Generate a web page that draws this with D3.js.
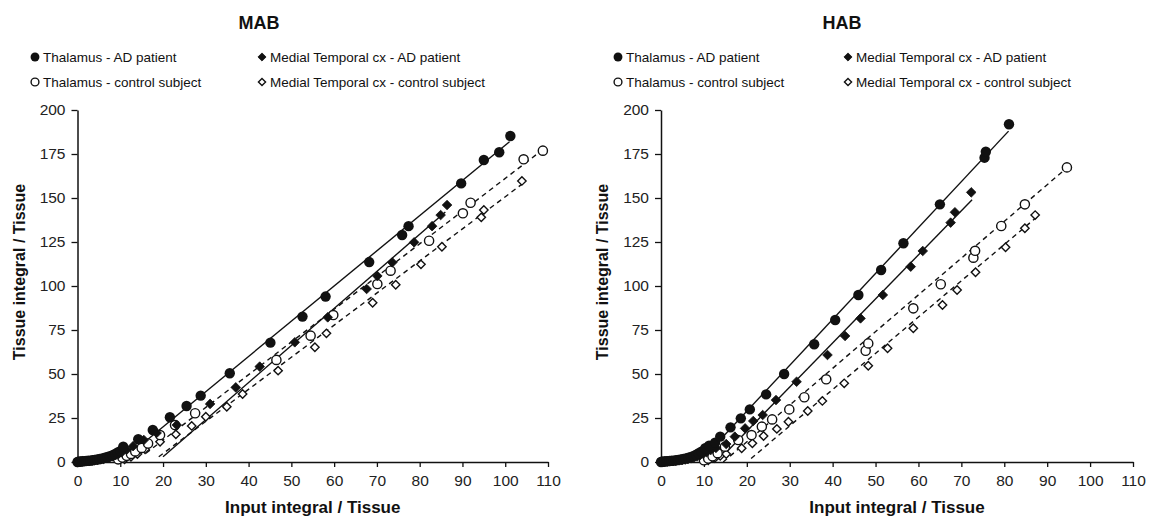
<!DOCTYPE html>
<html><head><meta charset="utf-8">
<script src="https://cdn.jsdelivr.net/npm/d3@7"></script>
<style>
html,body{margin:0;padding:0;background:#fff;}
svg{display:block;font-family:Arial,"Liberation Sans",sans-serif;}
</style></head>
<body><svg id="c" width="1149" height="519"></svg>
<script>
// ---------- data ----------
const xTicks = [0,10,20,30,40,50,60,70,80,90,100,110];
const yTicks = [0,25,50,75,100,125,150,175,200];
const panelTitles = ["MAB","HAB"];
const legendLabels = ["Thalamus - AD patient","Medial Temporal cx - AD patient","Thalamus - control subject","Medial Temporal cx - control subject"];
const xLabel = "Input integral / Tissue";
const yLabel = "Tissue integral / Tissue";

const mabThalAD = [[0,0],[0.2,0.1],[0.5,0.2],[0.8,0.3],[1.2,0.4],[1.6,0.5],[2.0,0.6],[2.5,0.7],[3.0,0.8],[3.5,1.0],[4.0,1.2],[4.6,1.4],[5.2,1.7],[5.8,2.0],[6.4,2.4],[7.0,2.8],[7.6,3.3],[8.2,3.9],[8.8,4.6],[9.4,5.4],[10.0,6.2],[10.7,8.7],[14.2,12.9],[17.6,18.2],[21.6,25.4],[25.5,31.8],[28.8,37.7],[35.6,50.4],[45.1,67.8],[52.6,82.6],[58.0,94.0],[68.2,113.6],[75.9,129.0],[77.4,134.0],[89.7,158.3],[95.0,171.6],[98.6,176.0],[101.2,185.2]];
const mabMtAD = [[0,0],[0.3,0.1],[0.7,0.2],[1.1,0.3],[1.6,0.4],[2.2,0.5],[2.8,0.6],[3.4,0.8],[4.0,1.0],[4.7,1.2],[5.4,1.5],[6.1,1.8],[6.8,2.2],[7.5,2.7],[8.2,3.2],[8.9,3.9],[9.6,4.6],[10.3,5.5],[11.5,7.0],[13.0,9.0],[15.5,12.5],[18.5,16.5],[23.2,21.0],[31.0,33.0],[37.0,42.4],[42.6,54.2],[50.8,68.0],[58.5,82.2],[67.6,98.3],[70.1,105.7],[73.6,113.4],[78.7,124.8],[82.9,134.0],[84.9,140.3],[86.4,146.0]];
const mabThalCtrl = [[9.5,1.5],[10.5,2.5],[11.5,3.5],[12.5,4.6],[13.5,6.0],[15.0,8.0],[16.5,10.5],[19.3,15.3],[22.8,21.0],[27.5,27.7],[46.5,58.0],[54.5,71.8],[59.8,83.5],[70.1,101.1],[73.2,108.7],[82.2,125.7],[90.1,141.3],[91.9,147.3],[104.3,172.0],[108.8,176.9]];
const mabMtCtrl = [[11.0,1.5],[12.5,3.0],[14.0,4.5],[15.8,7.2],[19.3,11.5],[23.0,15.7],[26.7,20.5],[30.0,25.7],[34.9,31.4],[38.6,38.6],[46.9,51.9],[55.5,65.2],[58.2,73.1],[69.0,90.5],[74.4,100.7],[80.3,112.3],[85.2,122.3],[94.4,139.0],[95.0,143.2],[103.9,159.7]];

const habThalAD = [[0,0],[0.2,0.1],[0.5,0.2],[0.8,0.3],[1.2,0.4],[1.6,0.5],[2.0,0.6],[2.5,0.7],[3.0,0.8],[3.5,1.0],[4.0,1.2],[4.6,1.4],[5.2,1.7],[5.8,2.0],[6.4,2.4],[7.0,2.9],[7.6,3.5],[8.2,4.2],[8.8,5.0],[9.4,5.9],[10.3,7.8],[11.2,9.3],[12.6,11.0],[13.8,14.4],[16.2,19.7],[18.6,24.8],[20.7,29.9],[24.5,38.4],[28.7,50.0],[35.7,66.9],[40.6,80.7],[46.0,94.9],[51.3,109.1],[56.5,124.3],[65.0,146.4],[75.4,172.9],[75.7,176.3],[81.1,191.9]];
const habMtAD = [[0,0],[0.4,0.1],[0.9,0.2],[1.5,0.3],[2.1,0.4],[2.8,0.5],[3.5,0.7],[4.2,0.9],[4.9,1.1],[5.6,1.4],[6.3,1.7],[7.0,2.1],[7.7,2.6],[8.4,3.2],[9.1,3.9],[9.8,4.7],[10.6,5.6],[11.6,6.8],[12.8,8.0],[15.2,10.2],[17.2,14.4],[19.6,19.1],[21.5,23.3],[23.7,26.7],[26.8,35.2],[31.6,45.6],[38.8,60.8],[42.9,71.6],[46.5,81.6],[51.7,94.9],[58.2,111.0],[61.0,119.9],[67.5,136.0],[68.5,141.9],[72.3,153.2]];
const habThalCtrl = [[10.0,1.0],[11.0,2.0],[12.0,3.2],[13.2,5.0],[14.9,8.7],[18.0,12.5],[21.1,15.3],[23.5,20.1],[25.9,24.2],[29.9,29.9],[33.4,36.8],[38.5,47.0],[47.7,63.2],[48.3,67.4],[58.8,87.3],[65.2,101.0],[72.8,116.1],[73.2,120.0],[79.3,134.1],[84.8,146.4],[94.6,167.4]];
const habMtCtrl = [[11.0,1.0],[12.5,2.2],[13.8,3.5],[15.2,4.5],[18.8,7.8],[21.3,10.6],[23.9,14.8],[27.0,18.8],[29.7,22.9],[34.2,29.0],[37.6,34.7],[42.7,44.7],[48.3,54.7],[52.8,64.6],[58.8,76.0],[65.6,89.2],[69.0,97.7],[73.3,107.8],[80.3,122.0],[84.8,132.8],[87.2,140.3]];

// fitted regression line end points [x0,y0,x1,y1]
const mabFitThalAD   = [13, 6, 101, 182];
const mabFitMtAD     = [20, 3, 86, 142];
const mabFitThalCtrl = [16, 5, 108, 176];
const mabFitMtCtrl   = [19, 3, 104, 158];
const habFitThalAD   = [12, 8, 81, 188];
const habFitMtAD     = [15, 5, 72.5, 149];
const habFitThalCtrl = [14.5, 0, 95, 168];
const habFitMtCtrl   = [21, 2, 87.5, 139];

// ---------- drawing ----------
const svg = d3.select("#c");
const markerTypes = ["fc","fd","oc","od"];

function marker(g, type, x, y, s) {
  if (type === "fc") g.append("circle").attr("cx",x).attr("cy",y).attr("r",5.2*s).attr("fill","#111");
  else if (type === "oc") g.append("circle").attr("cx",x).attr("cy",y).attr("r",4.6*s).attr("fill","#fff").attr("stroke","#111").attr("stroke-width",1.4);
  else {
    const h = (type==="fd"?4.8:4.2)*s;
    const p = d3.path(); p.moveTo(x,y-h); p.lineTo(x+h,y); p.lineTo(x,y+h); p.lineTo(x-h,y); p.closePath();
    g.append("path").attr("d",p.toString())
      .attr("fill", type==="fd"?"#111":"#fff").attr("stroke","#111").attr("stroke-width", type==="fd"?0.8:1.4);
  }
}

function panel(cfg) {
  const x = d3.scaleLinear().domain([0,110]).range([cfg.x0, cfg.x1]);
  const y = d3.scaleLinear().domain([0,200]).range([462, 110]);
  const g = svg.append("g");

  g.append("text").attr("x",cfg.titleX).attr("y",29).attr("text-anchor","middle")
    .attr("font-size",18).attr("font-weight","bold").attr("fill","#111").text(cfg.title);

  const lg = g.append("g").attr("font-size",13.5).attr("fill","#111");
  const cols = [cfg.legX1, cfg.legX2];
  const rows = [57, 82];
  const order = [[0,0,0],[1,1,0],[2,0,1],[3,1,1]];
  order.forEach(([i,c,r]) => {
    marker(lg, markerTypes[i], cols[c], rows[r], 0.85);
    lg.append("text").attr("x", cols[c]+8).attr("y", rows[r]+4.8).text(legendLabels[i]);
  });

  const ax = g.append("g").attr("transform","translate(0,462)")
    .call(d3.axisBottom(x).tickValues(xTicks).tickSize(5).tickSizeOuter(0).tickPadding(8));
  const ay = g.append("g").attr("transform",`translate(${cfg.x0},0)`)
    .call(d3.axisLeft(y).tickValues(yTicks).tickSize(6).tickSizeOuter(0).tickPadding(6));
  [ax,ay].forEach(a => {
    a.selectAll("path").attr("stroke","#111").attr("stroke-width",1.5);
    a.selectAll("line").attr("stroke","#111").attr("stroke-width",1.3);
    a.selectAll("text").attr("font-size",15.5).attr("fill","#222").attr("font-family","Arial,'Liberation Sans',sans-serif");
  });

  g.append("text").attr("x",(cfg.x0+cfg.x1)/2).attr("y",513).attr("text-anchor","middle")
    .attr("font-size",17).attr("font-weight","bold").attr("fill","#111").text(xLabel);
  g.append("text").attr("transform",`translate(${cfg.x0-53},272) rotate(-90)`).attr("text-anchor","middle")
    .attr("font-size",16).attr("font-weight","bold").attr("fill","#111").text(yLabel);

  cfg.fits.forEach((f,i) => {
    g.append("line").attr("x1",x(f[0])).attr("y1",y(f[1])).attr("x2",x(f[2])).attr("y2",y(f[3]))
      .attr("stroke","#111").attr("stroke-width",1.4)
      .attr("stroke-dasharray", i>=2 ? "5,4" : null);
  });

  const pg = g.append("g");
  [3,2,1,0].forEach(i => {
    cfg.series[i].forEach(d => marker(pg, markerTypes[i], x(d[0]), y(d[1]), 1));
  });
}

panel({title:panelTitles[0], titleX:259, x0:77.5, x1:548, legX1:35, legX2:262,
  series:[mabThalAD, mabMtAD, mabThalCtrl, mabMtCtrl],
  fits:[mabFitThalAD, mabFitMtAD, mabFitThalCtrl, mabFitMtCtrl]});
panel({title:panelTitles[1], titleX:842, x0:661, x1:1133, legX1:618, legX2:848,
  series:[habThalAD, habMtAD, habThalCtrl, habMtCtrl],
  fits:[habFitThalAD, habFitMtAD, habFitThalCtrl, habFitMtCtrl]});
</script>
</body></html>
